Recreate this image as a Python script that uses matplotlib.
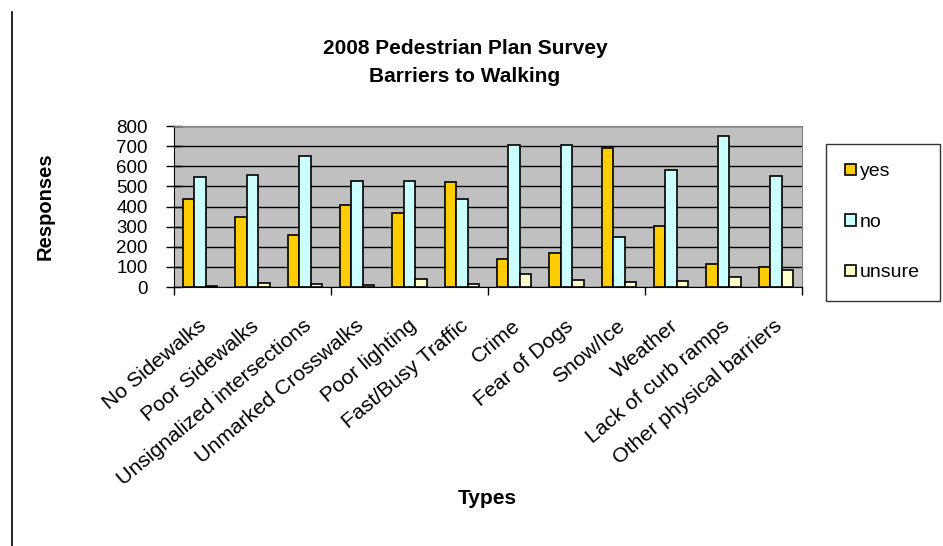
import numpy as np
import matplotlib
matplotlib.use("Agg")
import matplotlib.pyplot as plt
from matplotlib.lines import Line2D
from matplotlib.transforms import ScaledTranslation

plt.rcParams["font.family"] = ["Liberation Sans", "DejaVu Sans"]

categories = ["No Sidewalks", "Poor Sidewalks", "Unsignalized intersections",
              "Unmarked Crosswalks", "Poor lighting", "Fast/Busy Traffic",
              "Crime", "Fear of Dogs", "Snow/Ice", "Weather",
              "Lack of curb ramps", "Other physical barriers"]
yes = [438, 348, 258, 405, 367, 522, 137, 167, 692, 303, 113, 100]
no = [547, 555, 650, 528, 528, 438, 708, 708, 247, 580, 750, 550]
unsure = [5, 22, 17, 12, 42, 13, 67, 37, 25, 30, 50, 83]
series = [("yes", yes, "#FFCC00"), ("no", no, "#CCFFFF"), ("unsure", unsure, "#FFFFCC")]
yticks = [0, 100, 200, 300, 400, 500, 600, 700, 800]

W, H = 943, 546
fig = plt.figure(figsize=(W / 100, H / 100), dpi=100)
ax = fig.add_axes([174 / W, 1 - 287 / H, (802 - 174) / W, (287 - 126) / H])
ax.set_facecolor("#C0C0C0")

x = np.arange(len(categories))
bw = 0.22
for i, (name, vals, col) in enumerate(series):
    ax.bar(x + (i - 1) * bw, vals, width=bw, color=col, edgecolor="black",
           linewidth=1.2, label=name, zorder=3)

ax.set_xlim(-0.5, len(categories) - 0.5)
ax.set_ylim(0, 800)
ax.set_yticks(yticks)
ax.yaxis.grid(True, color="black", linewidth=1.0, zorder=1)
ax.set_axisbelow(True)
ax.tick_params(axis="y", direction="inout", length=12, width=1, labelsize=13.5, pad=13)

ax.set_xticks(x)
ax.set_xticklabels(categories, rotation=40, ha="right", rotation_mode="anchor", fontsize=15.3)
ax.tick_params(axis="x", which="major", length=0, pad=21)
shift = ScaledTranslation(-2 / 100, 0, fig.dpi_scale_trans)
for lab in ax.get_xticklabels():
    lab.set_transform(lab.get_transform() + shift)
ax.set_xticks([-0.5, 2.5, 5.5, 8.5, 11.5], minor=True)
ax.tick_params(axis="x", which="minor", direction="out", length=6, width=1)

for s in ["top", "right"]:
    ax.spines[s].set_color("#808080")
for s in ["left", "bottom"]:
    ax.spines[s].set_color("black")

fig.text(465 / W, 1 - 63 / H, "2008 Pedestrian Plan Survey\nBarriers to Walking",
         ha="center", va="center", fontsize=15, fontweight="bold", linespacing=1.6)
fig.text(45 / W, 1 - 206 / H, "Responses", rotation=90, ha="center", va="center",
         fontsize=14.5, fontweight="bold")
fig.text(487 / W, 1 - 498 / H, "Types", ha="center", va="center",
         fontsize=15, fontweight="bold")

leg = fig.legend(loc="upper left", bbox_to_anchor=(826 / W, 1 - 144 / H, (940 - 826) / W, 0.0),
                 mode="expand", fontsize=14, frameon=True, fancybox=False,
                 edgecolor="black", handlelength=0.55, handleheight=0.55,
                 handletextpad=0.2, labelspacing=1.72, borderpad=1.0, borderaxespad=0)
leg.get_frame().set_linewidth(1.0)

fig.add_artist(Line2D([12 / W, 12 / W], [0, 1 - 12 / H], color="black", linewidth=1.2))

fig.savefig("out.png", dpi=100)
